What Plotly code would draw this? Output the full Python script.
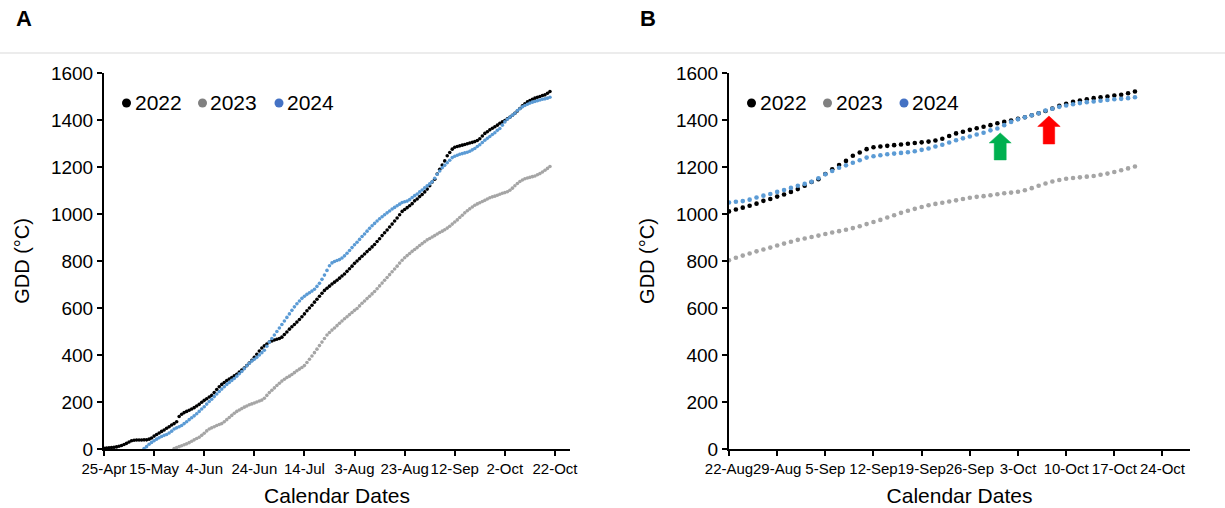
import pandas as pd
import plotly.graph_objects as go

# ---------------- data (daily cumulative GDD, °C) ----------------
YEARS = ["2022", "2023", "2024"]
START_2022 = "2022-04-25"   # first day of accumulation (calendar day shown on a common axis)
START_2023 = "2022-05-23"
START_2024 = "2022-05-11"

gdd_2022 = [
    3, 4, 5, 6, 7, 9, 12, 15, 19, 24, 30, 35, 37, 38, 38, 38, 39, 39, 42, 47,
    55, 62, 68, 75, 81, 88, 95, 102, 108, 116, 138, 148, 155, 160, 165, 170, 176, 183, 190, 199,
    207, 214, 221, 228, 240, 253, 265, 275, 283, 291, 298, 304, 311, 318, 327, 336, 345, 355, 366, 377,
    390, 403, 417, 430, 439, 447, 455, 460, 464, 467, 470, 476, 487, 498, 510, 520, 530, 540, 551, 563,
    575, 588, 600, 612, 625, 637, 650, 663, 675, 684, 693, 702, 710, 718, 727, 736, 745, 756, 767, 778,
    790, 800, 810, 820, 830, 840, 850, 860, 870, 883, 895, 908, 920, 932, 945, 957, 970, 983, 997, 1011,
    1019, 1027, 1035, 1044, 1056, 1064, 1074, 1083, 1094, 1106, 1120, 1136, 1148, 1170, 1190, 1208, 1226, 1248, 1262, 1276,
    1284, 1287, 1290, 1293, 1296, 1299, 1302, 1305, 1308, 1313, 1320, 1332, 1343, 1350, 1358, 1365, 1371, 1378, 1386, 1392,
    1398, 1405, 1412, 1420, 1429, 1438, 1449, 1460, 1469, 1477, 1483, 1488, 1493, 1497, 1500, 1504, 1507, 1514, 1521,
]

gdd_2023 = [
    2, 6, 10, 14, 18, 22, 27, 33, 39, 45, 50, 58, 67, 77, 85, 90, 95, 100, 104, 108,
    116, 125, 134, 143, 152, 160, 166, 172, 178, 183, 188, 192, 196, 200, 204, 208, 216, 228, 240, 250,
    260, 270, 280, 289, 297, 304, 310, 317, 325, 333, 340, 347, 355, 368, 382, 396, 410, 425, 440, 455,
    470, 485, 496, 506, 515, 525, 535, 545, 554, 563, 572, 581, 590, 598, 609, 620, 630, 640, 650, 660,
    670, 682, 694, 706, 718, 730, 742, 754, 766, 778, 791, 803, 814, 823, 832, 841, 849, 857, 866, 874,
    882, 890, 896, 902, 908, 915, 921, 927, 933, 940, 948, 957, 966, 975, 985, 995, 1005, 1014, 1022, 1030,
    1037, 1043, 1048, 1053, 1058, 1064, 1069, 1073, 1076, 1080, 1084, 1088, 1091, 1095, 1101, 1110, 1120, 1130, 1138, 1145,
    1150, 1153, 1156, 1159, 1162, 1167, 1172, 1179, 1186, 1194, 1202,
]

gdd_2024 = [
    2, 10, 20, 28, 35, 42, 48, 53, 58, 62, 68, 76, 85, 90, 95, 100, 108, 116, 125, 133,
    141, 150, 160, 170, 180, 191, 202, 212, 223, 234, 245, 255, 265, 275, 283, 292, 300, 310, 320, 330,
    342, 354, 365, 374, 382, 390, 400, 410, 420, 437, 455, 470, 485, 500, 515, 530, 545, 560, 575, 590,
    605, 618, 630, 641, 650, 658, 665, 672, 680, 692, 705, 722, 740, 760, 780, 792, 798, 802, 806, 813,
    822, 833, 845, 857, 869, 880, 892, 904, 915, 927, 939, 950, 960, 970, 980, 988, 997, 1005, 1013, 1021,
    1028, 1035, 1042, 1049, 1052, 1055, 1061, 1070, 1078, 1085, 1094, 1102, 1111, 1120, 1128, 1137, 1152, 1169, 1183, 1197,
    1207, 1218, 1229, 1240, 1246, 1250, 1254, 1257, 1260, 1263, 1267, 1273, 1279, 1287, 1295, 1304, 1314, 1322, 1330, 1338,
    1346, 1356, 1364, 1378, 1392, 1403, 1412, 1420, 1429, 1440, 1448, 1456, 1462, 1467, 1472, 1476, 1479, 1482, 1485, 1488,
    1490, 1493, 1497,
]

# axis settings
A_RANGE = ["2022-04-25", "2022-10-28"]
A_TICK0 = "2022-04-25"
A_DTICK_DAYS = 20
B_RANGE = ["2022-08-22", "2022-10-28"]
B_TICK0 = "2022-08-22"
B_DTICK_DAYS = 7
Y_RANGE = [0, 1600]
Y_DTICK = 200

# arrow markers in panel B (date, GDD at arrow tip)
GREEN_ARROW = ("2022-09-30 10:00", 1345)
RED_ARROW = ("2022-10-07 12:00", 1417)

# ---------------- styling ----------------
W, H = 1225, 508
FONT = "Arial, 'Liberation Sans', sans-serif"
PLOT_COLORS = {"2022": "#000000", "2023": "#A5A5A5", "2024": "#5B9BD5"}
LEGEND_COLORS = {"2022": "#000000", "2023": "#808080", "2024": "#4472C4"}

series = {
    "2022": pd.Series(gdd_2022, index=pd.date_range(START_2022, periods=len(gdd_2022), freq="D")),
    "2023": pd.Series(gdd_2023, index=pd.date_range(START_2023, periods=len(gdd_2023), freq="D")),
    "2024": pd.Series(gdd_2024, index=pd.date_range(START_2024, periods=len(gdd_2024), freq="D")),
}

fig = go.Figure()

for yr in YEARS:
    s = series[yr]
    fig.add_trace(go.Scatter(
        x=s.index, y=s.values, mode="markers", name=yr, showlegend=False,
        marker=dict(size=3.6, color=PLOT_COLORS[yr], line=dict(width=0)),
        xaxis="x", yaxis="y", cliponaxis=False,
    ))
    fig.add_trace(go.Scatter(
        x=s.index, y=s.values, mode="markers", name=yr, showlegend=False,
        marker=dict(size=4.6, color=PLOT_COLORS[yr], line=dict(width=0)),
        xaxis="x2", yaxis="y2",
    ))

DAY_MS = 86400000
Y_DOM = [1 - 449 / H, 1 - 73 / H]

common_axis = dict(
    showline=True, linecolor="black", linewidth=2,
    ticks="outside", ticklen=5, tickwidth=1.5, tickcolor="black",
    showgrid=False, zeroline=False,
)

xa_common = dict(
    common_axis, type="date", tickformat="%-d-%b", tickangle=0,
    tickfont=dict(size=15, color="black", family=FONT),
    title=dict(text="Calendar Dates", font=dict(size=21, color="black", family=FONT), standoff=12),
    automargin=False,
)
ya_common = dict(
    common_axis, range=Y_RANGE, dtick=Y_DTICK, tick0=0,
    tickfont=dict(size=19, color="black", family=FONT),
    title=dict(text="GDD (°C)", font=dict(size=20, color="black", family=FONT), standoff=16),
    automargin=False,
)

fig.update_layout(
    width=W, height=H,
    margin=dict(l=0, r=0, t=0, b=0),
    paper_bgcolor="white", plot_bgcolor="white",
    font=dict(family=FONT, color="black"),
    showlegend=False,
    xaxis=dict(xa_common, domain=[104 / W, 570 / W], anchor="y",
               range=A_RANGE, tick0=A_TICK0, dtick=A_DTICK_DAYS * DAY_MS),
    yaxis=dict(ya_common, domain=Y_DOM, anchor="x"),
    xaxis2=dict(xa_common, domain=[729 / W, 1190 / W], anchor="y2",
                range=B_RANGE, tick0=B_TICK0, dtick=B_DTICK_DAYS * DAY_MS),
    yaxis2=dict(ya_common, domain=Y_DOM, anchor="x2"),
)

# legends drawn inside each panel: dot + year label
LEGEND_Y = 1 - 103 / H
for panel_x0 in (0, 625):
    for yr, dot_x, text_x in zip(YEARS, (126.5, 202.5, 279), (132.5, 208.5, 284.5)):
        fig.add_shape(type="circle", xref="paper", yref="paper",
                      xsizemode="pixel", ysizemode="pixel",
                      xanchor=(panel_x0 + dot_x) / W, yanchor=LEGEND_Y,
                      x0=-4.5, x1=4.5, y0=-4.5, y1=4.5,
                      fillcolor=LEGEND_COLORS[yr], line=dict(width=0))
        fig.add_annotation(text=yr, xref="paper", yref="paper",
                           x=(panel_x0 + text_x) / W, y=LEGEND_Y,
                           xanchor="left", yanchor="middle", showarrow=False,
                           font=dict(size=21, color="black", family=FONT))

# panel letters
for txt, xp in (("A", 14), ("B", 638)):
    fig.add_annotation(text=f"<b>{txt}</b>", xref="paper", yref="paper",
                       x=xp / W, y=1 - 18 / H, xanchor="left", yanchor="middle",
                       showarrow=False, font=dict(size=22, color="black", family=FONT))

# separator line under panel letters
fig.add_shape(type="line", xref="paper", yref="paper", x0=0, x1=1,
              y0=1 - 53 / H, y1=1 - 53 / H, line=dict(color="#D9D9D9", width=1))

# block arrows in panel B (pixel-sized, anchored at data position of the tip)
def block_arrow(anchor, color, head_w, head_h, shaft_w, length):
    hw, sw = head_w / 2, shaft_w / 2
    path = (f"M 0 0 L {hw} {-head_h} L {sw} {-head_h} L {sw} {-length} "
            f"L {-sw} {-length} L {-sw} {-head_h} L {-hw} {-head_h} Z")
    fig.add_shape(type="path", xref="x2", yref="y2", xsizemode="pixel", ysizemode="pixel",
                  xanchor=anchor[0], yanchor=anchor[1], path=path,
                  fillcolor=color, line=dict(color=color, width=0.5))

block_arrow(GREEN_ARROW, "#00B050", 22, 10, 12, 27)
block_arrow(RED_ARROW, "#FF0000", 22.5, 10.5, 11.5, 28)

fig.write_html("out.html", config={"displayModeBar": False},
               post_script="document.body.style.margin='0px';")
